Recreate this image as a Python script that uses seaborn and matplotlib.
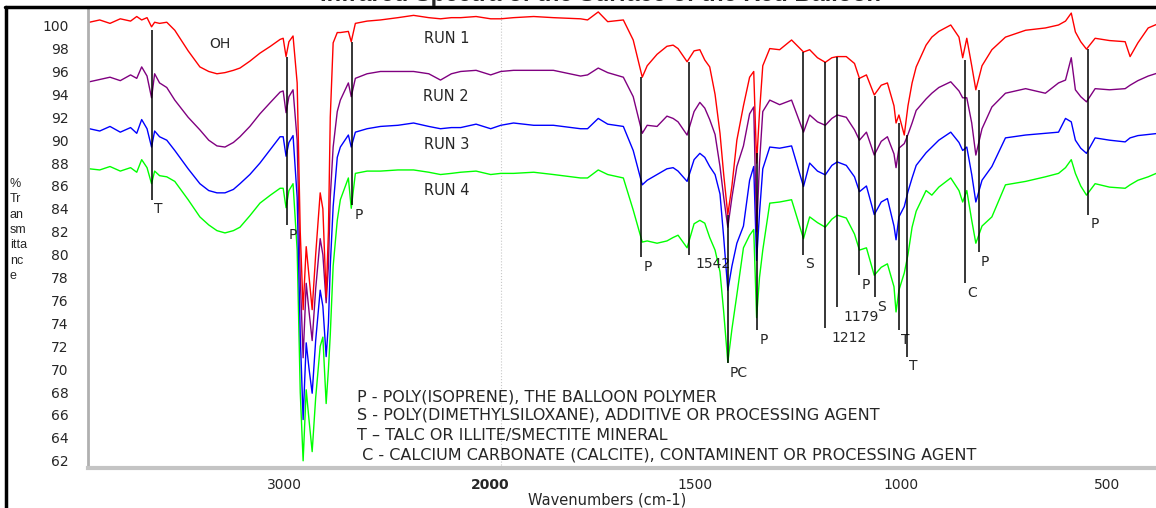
import matplotlib

matplotlib.use('Agg')

import numpy as np
import pandas as pd
import matplotlib.pyplot as plt
import matplotlib.transforms as mtransforms
from matplotlib.lines import Line2D
import seaborn as sns

# wavenumbers (cm-1) and %T
wavenumber = [4000, 3950, 3900, 3850, 3800, 3770, 3746, 3720, 3698, 3683,
              3659, 3624, 3585, 3520, 3463, 3420, 3380, 3341, 3300, 3268,
              3220, 3171, 3120, 3073, 3058, 3044, 3030, 3010, 2990, 2975,
              2961, 2946, 2932, 2917, 2900, 2878, 2865, 2849, 2838, 2829,
              2815, 2795, 2780, 2741, 2727, 2707, 2650, 2585, 2500, 2424,
              2350, 2293, 2240, 2195, 2120, 2049, 2000, 1969, 1920, 1872,
              1806, 1789, 1763, 1740, 1702, 1678, 1656, 1644, 1620, 1596,
              1581, 1569, 1547, 1530, 1516, 1504, 1492, 1479, 1467, 1458,
              1448, 1438, 1426, 1410, 1395, 1385, 1378, 1371, 1363, 1346,
              1322, 1293, 1264, 1249, 1230, 1211, 1195, 1182, 1160, 1140,
              1128, 1111, 1092, 1075, 1060, 1044, 1039, 1032, 1019, 1010,
              1000, 990, 966, 952, 935, 906, 886, 877, 867, 855,
              845, 830, 806, 773, 724, 676, 644, 627, 613, 603,
              590, 576, 555, 520, 482, 470, 451, 426, 400]

run1 = [100.3, 100.5, 100.2, 100.6, 100.4, 100.8, 100.5, 100.7, 99.9, 100.3,
        100.2, 100.3, 99.6, 97.8, 96.4, 96.0, 95.8, 95.9, 96.1, 96.3,
        96.9, 97.6, 98.2, 98.8, 98.9, 97.3, 98.6, 99.1, 95.0, 82.0,
        75.2, 80.7, 78.0, 75.2, 80.0, 85.4, 84.0, 76.3, 82.0, 92.0,
        98.5, 99.4, 99.4, 99.5, 98.6, 100.2, 100.4, 100.5, 100.7, 100.9,
        100.7, 100.6, 100.7, 100.7, 100.8, 100.6, 100.6, 100.7, 100.8, 100.7,
        100.6, 100.5, 101.2, 100.35, 100.5, 98.75, 95.5, 96.5, 97.5, 98.2,
        98.3, 98.0, 96.85, 97.8, 97.9, 97.0, 96.4, 94.0, 90.6, 87.0,
        83.5, 86.0, 90.0, 93.0, 95.5, 96.0, 88.0, 92.4, 96.5, 98.0,
        97.9, 98.75, 97.7, 97.9, 97.2, 96.8, 97.2, 97.3, 97.3, 96.7,
        95.4, 95.7, 93.95, 94.8, 95.0, 93.0, 91.5, 92.2, 90.45, 93.0,
        95.0, 96.4, 98.3, 99.0, 99.5, 100.06, 99.0, 97.2, 98.9, 96.5,
        94.4, 96.5, 97.9, 99.0, 99.6, 99.8, 100.06, 100.4, 101.1, 99.45,
        98.6, 97.95, 98.9, 98.7, 98.6, 97.3, 98.5, 99.8, 100.2]

run2 = [95.1, 95.3, 95.5, 95.2, 95.7, 95.4, 96.4, 95.6, 93.7, 95.8,
        95.0, 94.6, 93.5, 92.0, 90.9, 90.0, 89.5, 89.4, 89.8, 90.3,
        91.2, 92.3, 93.3, 94.2, 94.3, 92.4, 93.8, 94.4, 90.0, 78.0,
        71.0, 77.5, 75.0, 72.5, 77.0, 81.4, 80.0, 75.8, 79.0, 85.0,
        89.4, 92.5, 93.5, 95.0, 93.8, 95.4, 95.8, 96.0, 96.0, 96.0,
        95.8, 95.25, 95.8, 96.0, 96.1, 95.7, 96.0, 96.1, 96.1, 96.1,
        95.6, 95.7, 96.3, 95.9, 95.5, 93.8, 90.6, 91.3, 91.2, 92.1,
        91.9, 91.6, 90.45, 92.5, 93.3, 92.8, 91.8, 90.5, 87.7, 85.0,
        82.4, 85.0, 87.7, 89.5, 92.3, 92.9, 82.0, 88.0, 92.5, 93.5,
        93.1, 93.5, 90.7, 92.2, 91.6, 91.3, 91.9, 92.2, 92.0, 90.9,
        90.0, 90.7, 88.7, 89.9, 90.3, 88.8, 87.6, 89.3, 89.7, 90.5,
        91.5, 92.6, 93.6, 94.1, 94.6, 95.1, 94.3, 93.7, 93.7, 91.5,
        88.7, 91.0, 92.9, 94.1, 94.5, 94.1, 95.0, 95.25, 97.2, 94.4,
        93.8, 93.35, 94.5, 94.4, 94.5, 94.8, 95.2, 95.6, 95.9]

run3 = [91.0, 90.8, 91.2, 90.7, 91.1, 90.6, 91.8, 91.0, 89.4, 90.8,
        90.3, 90.0, 89.1, 87.5, 86.2, 85.6, 85.4, 85.4, 85.7, 86.2,
        87.0, 88.0, 89.2, 90.3, 90.3, 88.6, 89.8, 90.4, 85.0, 73.0,
        65.6, 72.3, 70.0, 67.9, 72.5, 76.9, 75.5, 71.1, 74.0, 79.0,
        84.2, 88.5, 89.4, 90.45, 89.4, 90.7, 91.0, 91.2, 91.3, 91.5,
        91.2, 91.0, 91.1, 91.1, 91.4, 91.0, 91.3, 91.5, 91.3, 91.3,
        91.0, 91.0, 91.9, 91.4, 91.2, 89.1, 86.1, 86.5, 87.0, 87.5,
        87.6, 87.3, 86.4, 88.3, 88.85, 88.5, 87.7, 87.0, 85.3, 81.5,
        76.9, 79.0, 81.0, 82.5, 86.5, 87.7, 79.5, 83.6, 87.5, 89.4,
        89.3, 89.5, 85.95, 88.0, 87.3, 86.97, 87.8, 88.1, 87.8, 86.8,
        85.5, 86.0, 83.5, 84.6, 84.9, 82.5, 81.3, 83.3, 84.2, 85.5,
        86.7, 87.8, 88.9, 89.4, 90.0, 90.7, 89.8, 89.1, 89.4, 87.0,
        84.6, 86.5, 87.7, 90.2, 90.45, 90.6, 90.7, 91.9, 91.6, 90.0,
        89.3, 88.85, 90.2, 90.0, 89.85, 90.2, 90.4, 90.5, 90.6]

run4 = [87.5, 87.4, 87.7, 87.3, 87.6, 87.2, 88.3, 87.6, 86.2, 87.3,
        86.9, 86.8, 86.4, 84.8, 83.3, 82.6, 82.1, 81.9, 82.1, 82.4,
        83.4, 84.5, 85.2, 85.8, 85.8, 84.1, 85.6, 86.2, 80.4, 68.0,
        62.0, 68.2, 65.5, 62.8, 67.5, 72.0, 72.8, 67.0, 70.0, 73.0,
        79.0, 83.0, 84.8, 86.7, 84.05, 87.1, 87.3, 87.3, 87.4, 87.4,
        87.2, 87.0, 87.1, 87.2, 87.3, 87.0, 87.1, 87.1, 87.2, 87.0,
        86.7, 86.7, 87.4, 87.0, 86.7, 83.9, 81.1, 81.2, 81.0, 81.2,
        81.5, 81.7, 80.6, 82.7, 83.0, 82.75, 81.5, 80.4, 78.5, 75.0,
        70.6, 73.5, 76.5, 80.6, 81.7, 82.2, 74.5, 78.0, 80.4, 84.5,
        84.6, 84.8, 81.4, 83.3, 82.8, 82.4, 83.1, 83.45, 83.2, 81.8,
        80.4, 80.6, 78.2, 78.9, 79.2, 77.2, 75.0, 76.9, 78.4, 80.0,
        82.4, 83.8, 85.6, 85.2, 85.9, 86.7, 85.6, 84.6, 85.6, 83.0,
        81.0, 82.5, 83.3, 86.1, 86.4, 86.8, 87.1, 87.6, 88.3, 87.1,
        86.0, 85.2, 86.2, 85.9, 85.8, 86.1, 86.5, 86.8, 87.2]

run_names = ['RUN 1', 'RUN 2', 'RUN 3', 'RUN 4']
run_colors = ['#ff0000', '#800080', '#0000ff', '#00ff00']

# peak markers: position, line top / bottom (%T), label
peak_wn = [3698, 3040, 2722, 1658, 1542, 1448, 1376, 1264, 1211,
           1182, 1128, 1089, 1032, 1012, 872, 838, 572]
peak_top = [99.6, 97.3, 98.6, 95.5, 96.8, 83.5, 88.9, 97.7, 96.8,
            97.3, 95.4, 93.9, 91.5, 90.45, 97.0, 94.4, 97.95]
peak_bottom = [84.8, 82.6, 84.3, 79.8, 80.0, 70.5, 73.4, 80.0, 73.6,
               75.4, 78.2, 76.3, 73.4, 71.1, 77.5, 80.2, 83.5]
peak_label = ['T', 'P', 'P', 'P', '1542', 'PC', 'P', 'S', '1212',
              '1179', 'P', 'S', 'T', 'T', 'C', 'P', 'P']

key_lines = ['P - POLY(ISOPRENE), THE BALLOON POLYMER',
             'S - POLY(DIMETHYLSILOXANE), ADDITIVE OR PROCESSING AGENT',
             'T \u2013 TALC OR ILLITE/SMECTITE MINERAL',
             ' C - CALCIUM CARBONATE (CALCITE), CONTAMINENT OR PROCESSING AGENT']


def fwd(w):
    # OMNIC style axis: above 2000 cm-1 the scale is compressed by half
    w = np.asarray(w, dtype=float)
    return np.where(w > 2000, 2000 + (w - 2000) / 2.0, w)


def inv(u):
    u = np.asarray(u, dtype=float)
    return np.where(u > 2000, 2000 + (u - 2000) * 2.0, u)


sns.set_style('white')
plt.rcParams['font.family'] = ['DejaVu Sans']

df = pd.DataFrame({
    'wavenumber': wavenumber * 4,
    'T': run1 + run2 + run3 + run4,
    'run': sum([[name] * len(wavenumber) for name in run_names], []),
})

fig = plt.figure(figsize=(11.56, 5.08), dpi=100)
ax = fig.add_axes([88 / 1156, 40 / 508, 1068 / 1156, 459.5 / 508])

sns.lineplot(data=df, x='wavenumber', y='T', hue='run',
             hue_order=run_names[::-1],
             palette=dict(zip(run_names, run_colors)),
             estimator=None, legend=False, linewidth=1.0, ax=ax)

ax.set_xscale('function', functions=(fwd, inv))
ax.set_xlim(4007, 407)
ax.set_ylim(61.37, 101.5)

ax.axvline(2000, color='#c8c8c8', lw=0.8, ls=':', zorder=0)

# x ticks
ax.set_xticks([3000, 2000, 1500, 1000, 500])
ax.set_xticklabels(['3000', '2000', '1500', '1000', '500'])
ax.xaxis.get_ticklabels()[1].set_fontweight('bold')
minor_x = list(range(3800, 2000, -200)) + [w for w in range(1900, 400, -100) if w % 500]
ax.set_xticks(minor_x, minor=True)
ax.tick_params(axis='x', which='major', direction='out', length=5, width=1,
               color='#202020', labelsize=10, pad=2)
ax.tick_params(axis='x', which='minor', direction='out', length=3, width=1,
               color='#202020')
shift = mtransforms.ScaledTranslation(-11 / 100, 0, fig.dpi_scale_trans)
for lab in ax.xaxis.get_majorticklabels():
    lab.set_transform(lab.get_transform() + shift)

# y ticks
ax.set_yticks(np.arange(62, 101, 2))
ax.set_yticks(np.arange(61.5, 101.3, 0.25), minor=True)
ax.tick_params(axis='y', which='major', direction='inout', length=6, width=1.2,
               color='#303030', labelsize=10, pad=11)
ax.tick_params(axis='y', which='minor', direction='inout', length=3, width=0.8,
               color='#505050')
ax.set_xlabel('')
ax.set_ylabel('')

for side in ['top', 'right']:
    ax.spines[side].set_visible(False)
ax.spines['left'].set_color('#b0b0b0')
ax.spines['left'].set_linewidth(2)
ax.spines['bottom'].set_color('#c4c4c4')
ax.spines['bottom'].set_linewidth(3)

# peak assignment lines and labels
ax.vlines(peak_wn, peak_bottom, peak_top, colors='black', linewidth=1.1, zorder=5)
for w, b, lab in zip(peak_wn, peak_bottom, peak_label):
    dx = 4.5 if lab.isdigit() else 1.5
    ax.annotate(lab, xy=(w, b), xytext=(dx, -2), textcoords='offset points',
                ha='left', va='top', fontsize=10)

ax.text(3366, 98.4, 'OH', ha='center', va='center', fontsize=10)
for name, t in zip(run_names, [98.9, 93.8, 89.6, 85.6]):
    ax.text(2265, t, name, ha='center', va='center', fontsize=10.5)

for line, t in zip(key_lines, [67.14, 65.57, 63.82, 62.07]):
    ax.text(2698, t, line, ha='left', va='baseline', fontsize=11.5)

fig.text(607 / 1156, 1 - 500 / 508, 'Wavenumbers (cm-1)', ha='center',
         va='center', fontsize=10.5)
fig.text(10 / 1156, 1 - 178 / 508, '%\nTr\nan\nsm\nitta\nnc\ne', ha='left',
         va='top', fontsize=9, linespacing=1.37, family=['Liberation Sans', 'DejaVu Sans'])

# title is cut off by the top of the picture
fig.text(600 / 1156, 1 - 1 / 508, 'Infrared Spectra of the Surface of the Red Balloon',
         ha='center', va='baseline', fontsize=17, fontweight='bold',
         family=['Liberation Sans', 'DejaVu Sans'])

# frame around the figure (only top and left edges are in view)
fig.add_artist(Line2D([5 / 1156, 1], [1 - 7 / 508, 1 - 7 / 508],
                      transform=fig.transFigure, color='black', lw=2.5))
fig.add_artist(Line2D([6 / 1156, 6 / 1156], [0, 1 - 7 / 508],
                      transform=fig.transFigure, color='black', lw=2.5))

fig.savefig('out.png', dpi=100)
